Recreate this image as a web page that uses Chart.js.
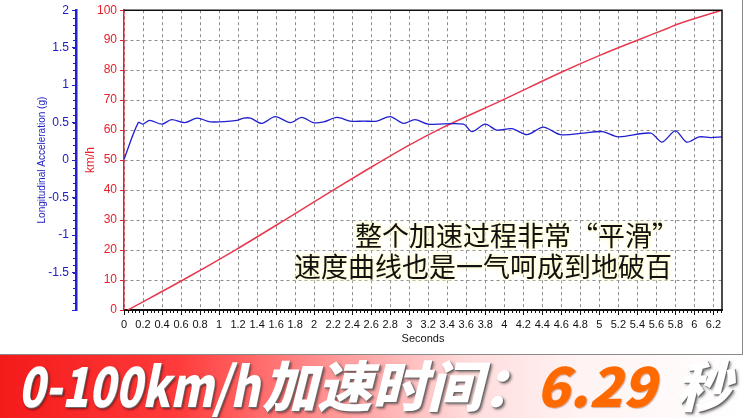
<!DOCTYPE html>
<html>
<head>
<meta charset="utf-8">
<script src="https://cdn.jsdelivr.net/npm/chart.js@4.4.1/dist/chart.umd.min.js"></script>
<style>
  html, body { margin: 0; padding: 0; background: #fff; }
  body { width: 744px; height: 418px; position: relative; overflow: hidden; font-family: "Liberation Sans", Arial, sans-serif; }
  #wrap { position: absolute; left: 0; top: 0; width: 744px; height: 354px; }
  #frame { position: absolute; left: -1px; top: -1px; width: 743px; height: 355px; border-right: 1px solid #8a8a8a; border-bottom: 1px solid #8a8a8a; pointer-events: none; }
  .note { position: absolute; font-family: "Noto Sans CJK SC"; font-size: 27px; line-height: 1; color: #111; white-space: nowrap;
          text-shadow: 0 0 2px #fffbd2, 0 0 3px #fffbd2, 0 0 4px #fffbd2, 0 0 6px #fffbd2; }
  #banner { position: absolute; left: 0; top: 355px; width: 744px; height: 63px;
            background: linear-gradient(to right, #f41a1a 0%, #ff3b3b 24%, #ff9c9c 46%, #ffdcdc 63%, #fff3f3 78%, #ffffff 100%); }
  .bt { position: absolute; top: 1px; font-family: "Noto Sans CJK SC"; font-weight: 900; font-style: italic; font-size: 55px; line-height: 1;
        color: #fff; white-space: nowrap; text-shadow: 1px 1px 0 #6a6a6a, 2px 2px 3px rgba(0,0,0,0.55); }
</style>
</head>
<body>
<div id="wrap"><canvas id="accelchart"></canvas></div>
<div id="frame"></div>
<div class="note" style="left:355px; top:221px;">整个加速过程非常“平滑”</div>
<div class="note" style="left:294px; top:252px;">速度曲线也是一气呵成到地破百</div>
<div id="banner">
  <span class="bt" style="left:18px; transform: scaleX(0.8); transform-origin: left;">0-100km/h</span>
  <span class="bt" style="left:262px;">加速时间：</span>
  <span class="bt" style="left:536px; color:#ff6a00; text-shadow: 1px 1px 1px rgba(120,40,0,0.35);">6.29</span>
  <span class="bt" style="left:676px;">秒</span>
</div>
<script>
"use strict";

/* tick labels */
var timeTicks = [0, 0.2, 0.4, 0.6, 0.8, 1, 1.2, 1.4, 1.6, 1.8, 2, 2.2, 2.4, 2.6, 2.8, 3, 3.2, 3.4, 3.6, 3.8,
                 4, 4.2, 4.4, 4.6, 4.8, 5, 5.2, 5.4, 5.6, 5.8, 6, 6.2];
var speedTicks = [0, 10, 20, 30, 40, 50, 60, 70, 80, 90, 100];
var accelTicks = [-2, -1.5, -1, -0.5, 0, 0.5, 1, 1.5, 2];

/* longitudinal acceleration (g) */
var accelTime = [0, 0.15, 0.20, 0.27, 0.40, 0.50, 0.64, 0.77, 0.91, 1.19, 1.26, 1.33, 1.45, 1.59, 1.75, 1.87,
                 1.99, 2.10, 2.24, 2.38, 2.52, 2.66, 2.80, 2.94, 3.06, 3.20, 3.57, 3.66, 3.80, 3.92, 4.08, 4.24,
                 4.41, 4.59, 4.83, 5.03, 5.20, 5.54, 5.66, 5.80, 5.92, 6.05, 6.17, 6.29];
var accelG = [0.01, 0.50, 0.48, 0.53, 0.48, 0.54, 0.50, 0.56, 0.51, 0.53, 0.56, 0.56, 0.49, 0.58, 0.50, 0.57,
              0.50, 0.51, 0.57, 0.52, 0.52, 0.52, 0.58, 0.49, 0.54, 0.48, 0.48, 0.38, 0.48, 0.40, 0.42, 0.34,
              0.44, 0.34, 0.36, 0.38, 0.31, 0.36, 0.24, 0.39, 0.24, 0.31, 0.30, 0.31];

/* speed (km/h) */
var speedTime = [0.04, 0.62, 1.17, 1.69, 2.20, 2.55, 3.00, 3.33, 3.98, 4.60, 5.01, 5.40, 5.72, 5.82, 6.29];
var speedKmh = [0, 10, 20, 30, 40, 46.7, 55, 60.5, 70, 79.3, 85.0, 90, 94, 95.3, 100];

function toPoints(xs, ys) {
    return xs.map(function (x, i) { return { x: x, y: ys[i] }; });
}

/* frame + minor ticks */
var framePlugin = {
    id: 'frame',
    afterDraw: function (chart) {
        var ctx = chart.ctx, a = chart.chartArea;
        var sx = chart.scales.x, sg = chart.scales.yg;
        ctx.save();
        ctx.strokeStyle = '#111';
        ctx.lineWidth = 1.5;
        ctx.beginPath();
        ctx.moveTo(a.left, a.top);
        ctx.lineTo(a.right, a.top);
        ctx.lineTo(a.right, a.bottom);
        ctx.stroke();
        ctx.lineWidth = 1;
        ctx.beginPath();
        for (var i = 0; i <= 157; i++) {
            var px = Math.round(sx.getPixelForValue(i * 0.04)) + 0.5;
            ctx.moveTo(px, a.bottom);
            ctx.lineTo(px, a.bottom + 3);
        }
        ctx.stroke();
        ctx.strokeStyle = '#2020c8';
        ctx.beginPath();
        for (var j = -20; j <= 20; j++) {
            var py = Math.round(sg.getPixelForValue(j * 0.1)) + 0.5;
            ctx.moveTo(sg.right, py);
            ctx.lineTo(sg.right - 3, py);
        }
        ctx.stroke();
        ctx.restore();
    }
};

var ctxAccel = document.getElementById('accelchart').getContext('2d');

var accelConfig = {
    type: 'line',
    data: {
        datasets: [{
            label: 'Longitudinal Acceleration',
            data: toPoints(accelTime, accelG),
            yAxisID: 'yg',
            borderColor: '#1f1fd0',
            borderWidth: 1.3,
            pointRadius: 0,
            fill: false,
            tension: 0.3
        },
        {
            label: 'km/h',
            data: toPoints(speedTime, speedKmh),
            yAxisID: 'y',
            borderColor: '#e8394e',
            borderWidth: 1.5,
            pointRadius: 0,
            fill: false,
            cubicInterpolationMode: 'monotone'
        }]
    },
    options: {
        animation: false,
        responsive: true,
        maintainAspectRatio: false,
        layout: { padding: { top: 10, right: 22, left: 0, bottom: 0 } },
        plugins: {
            legend: { display: false },
            tooltip: { enabled: false }
        },
        scales: {
            x: {
                type: 'linear',
                min: 0,
                max: 6.29,
                afterBuildTicks: function (s) { s.ticks = timeTicks.map(function (v) { return { value: v }; }); },
                afterFit: function (s) { s.height = 44; },
                ticks: {
                    color: '#111',
                    font: { family: 'Liberation Sans', size: 11 },
                    padding: 3,
                    maxRotation: 0,
                    autoSkip: false,
                    callback: function (v) { return String(Math.round(v * 10) / 10); }
                },
                grid: { color: '#8c8c8c', lineWidth: 1, tickColor: '#111', tickLength: 5 },
                border: { color: '#111', width: 2, dash: [3, 3] },
                title: {
                    display: true,
                    text: 'Seconds',
                    color: '#111',
                    font: { family: 'Liberation Sans', size: 11 },
                    padding: { top: 1, bottom: 8 }
                }
            },
            y: {
                position: 'left',
                weight: 0,
                min: 0,
                max: 100,
                afterBuildTicks: function (s) { s.ticks = speedTicks.map(function (v) { return { value: v }; }); },
                afterFit: function (s) { s.width = 48; },
                ticks: { color: '#e8202a', font: { family: 'Liberation Sans', size: 12 }, padding: 3 },
                grid: { color: '#8c8c8c', lineWidth: 1, tickColor: '#e8202a', tickLength: 4 },
                border: { color: '#e8202a', width: 1.5, dash: [3, 3] },
                title: {
                    display: true,
                    text: 'km/h',
                    color: '#e8202a',
                    font: { family: 'Liberation Sans', size: 12 },
                    padding: { top: 7, bottom: 0 }
                }
            },
            yg: {
                position: 'left',
                weight: 1,
                min: -2,
                max: 2,
                afterBuildTicks: function (s) { s.ticks = accelTicks.map(function (v) { return { value: v }; }); },
                afterFit: function (s) { s.width = 76; },
                ticks: {
                    color: '#2020c0',
                    font: { family: 'Liberation Sans', size: 12 },
                    padding: 3,
                    callback: function (v) { return v === -2 ? '' : String(v); }
                },
                grid: { drawOnChartArea: false, color: '#2020c0', tickColor: '#2020c0', tickLength: 4 },
                border: { color: '#2020d0', width: 2.5 },
                title: {
                    display: true,
                    text: 'Longitudinal Acceleration (g)',
                    color: '#2020c0',
                    font: { family: 'Liberation Sans', size: 10 },
                    padding: { top: 36, bottom: 0 }
                }
            }
        }
    },
    plugins: [framePlugin]
};

var accelChart = new Chart(ctxAccel, accelConfig);
</script>
</body>
</html>
